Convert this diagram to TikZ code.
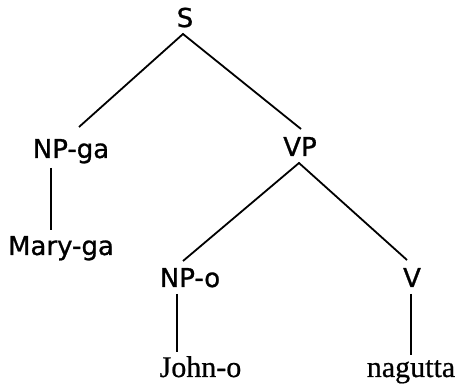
\documentclass[tikz,border=0pt]{standalone}
\usepackage{fontspec}
\newfontfamily\gothic[FakeBold=1.0]{DejaVu Sans}
\newfontfamily\century[FakeBold=0.6]{Liberation Serif}
\usetikzlibrary{calc}
\tikzset{
  cat/.style={inner sep=0pt, anchor=base, font=\gothic\fontsize{26}{30}\selectfont},
  word/.style={inner sep=0pt, anchor=base, font=\century\fontsize{30}{34}\selectfont},
  branch/.style={line width=1.8pt, line cap=butt}
}
\begin{document}
\begin{tikzpicture}[x=1pt, y=-1pt]
\useasboundingbox (0,0) rectangle (458,387);
\node[cat] (S) at (185,27) {S};
\node[cat] (NPga) at (71,158) {NP-ga};
\node[cat] (VP) at (300,156) {VP};
\node[cat] (Maryga) at (61,255) {Mary-ga};
\node[cat] (NPo) at (190,287) {NP-o};
\node[cat] (V) at (412,287) {V};
\node[word] (Johno) at (200.5,377) {John-o};
\node[word] (nagutta) at (411,377) {nagutta};
\draw[branch] ($(NPga.base)+(8,-31)$) -- ($(S.base)+(-2,7)$) -- ($(VP.base)+(1,-27)$);
\draw[branch] ($(NPo.base)+(-7,-26)$) -- ($(VP.base)+(-1,7)$) -- ($(V.base)+(-5,-27)$);
\draw[branch] ($(NPga.base)+(-20,10)$) -- ($(Maryga.base)+(-10,-25)$);
\draw[branch] ($(NPo.base)+(-13,7)$) -- ($(Johno.base)+(-23.5,-25)$);
\draw[branch] ($(V.base)+(-1,7)$) -- ($(nagutta.base)+(0,-22)$);
\end{tikzpicture}
\end{document}
